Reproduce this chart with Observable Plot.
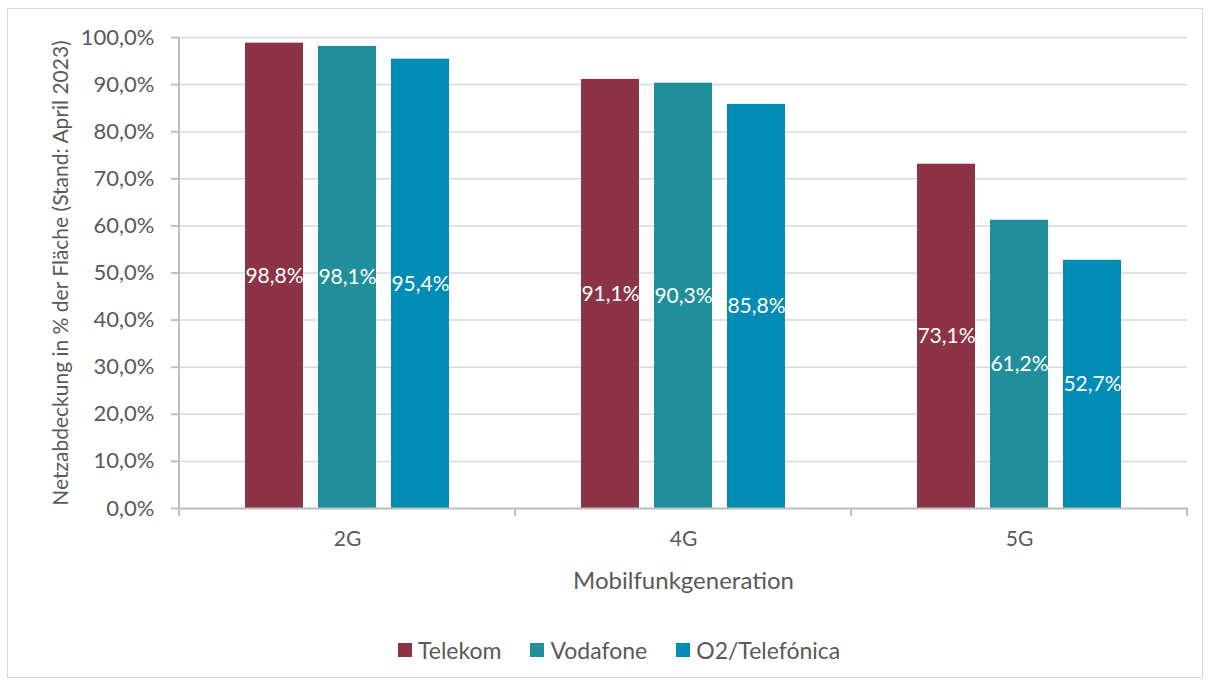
<!DOCTYPE html>
<html>
<head>
<meta charset="utf-8">
<script src="https://cdn.jsdelivr.net/npm/d3@7"></script>
<script src="https://cdn.jsdelivr.net/npm/@observablehq/plot@0.6"></script>
<style>
  html, body { margin: 0; padding: 0; background: #fff; }
  body { width: 1212px; height: 684px; position: relative; overflow: hidden; font-family: Lato, "Open Sans", sans-serif; }
  #frame { position: absolute; left: 7px; top: 8px; width: 1196px; height: 670px; border: 1.5px solid #d9d9d9; box-sizing: border-box; }
  #chart { position: absolute; left: 0; top: 0; }
  #legend { position: absolute; left: 398px; top: 636px; display: flex; align-items: center; font-size: 23px; color: #595959; line-height: 28px; }
  #legend .item { display: flex; align-items: center; margin-right: 29px; }
  #legend .sw { width: 14px; height: 14px; margin-right: 6px; }
</style>
</head>
<body>
<div id="frame"></div>
<div id="chart"></div>
<div id="legend"></div>
<script>
const categories = ["2G", "4G", "5G"];
const operators = ["Telekom", "Vodafone", "O2/Telefónica"];
const telekom = [98.8, 91.1, 73.1];
const vodafone = [98.1, 90.3, 61.2];
const o2 = [95.4, 85.8, 52.7];
const colors = ["#8C3446", "#218F9B", "#008CB4"];
const yTicks = [0, 10, 20, 30, 40, 50, 60, 70, 80, 90, 100];
const yLabel = "Netzabdeckung in % der Fläche (Stand: April 2023)";
const xLabel = "Mobilfunkgeneration";

const series = [telekom, vodafone, o2];
const data = [];
categories.forEach((c, i) => operators.forEach((o, j) => data.push({gen: c, op: o, value: series[j][i]})));

const fmt1 = v => v.toFixed(1).replace(".", ",") + "%";

const plot = Plot.plot({
  width: 1212,
  height: 600,
  marginLeft: 178,
  marginRight: 25,
  marginTop: 37,
  marginBottom: 92,
  style: {fontFamily: "Lato, 'Open Sans', sans-serif", fontSize: "21px", color: "#595959", background: "transparent", overflow: "visible"},
  fx: {domain: categories, padding: 0},
  x: {domain: operators, paddingInner: 0.203, paddingOuter: 0.875, axis: null},
  y: {domain: [0, 100]},
  color: {domain: operators, range: colors},
  marks: [
    Plot.gridY(yTicks, {stroke: "#d9d9d9", strokeOpacity: 1, strokeWidth: 1.5}),
    Plot.barY(data, {fx: "gen", x: "op", y: "value", fill: "op"}),
    Plot.text(data, {fx: "gen", x: "op", y: d => d.value / 2, text: d => fmt1(d.value), fill: "white", fontSize: 21}),
    Plot.ruleY([0], {stroke: "#bfbfbf", strokeWidth: 2}),
    Plot.axisY(yTicks, {tickSize: 8, tickPadding: 17, tickFormat: fmt1, stroke: "#bfbfbf", strokeWidth: 2, fill: "#595959", fontSize: 22, label: null}),
    Plot.axisY([], {tickSize: 0, fill: "#595959", fontSize: 21, label: yLabel, labelAnchor: "center", labelOffset: 126, labelArrow: "none"}),
    Plot.axisFx({anchor: "bottom", tickSize: 0, tickPadding: 23, fill: "#595959", fontSize: 21, label: null}),
    Plot.axisFx([], {anchor: "bottom", tickSize: 0, fill: "#595959", fontSize: 24, label: xLabel, labelAnchor: "center", labelOffset: 80, labelArrow: "none"})
  ]
});

document.getElementById("chart").appendChild(plot);

// y-axis line and category separator ticks, positioned from the plot's own scales
const fx = plot.scale("fx");
const y = plot.scale("y");
const svg = d3.select(plot);
const x0 = fx.apply(categories[0]);
const edges = categories.map(c => fx.apply(c)).concat([fx.apply(categories[categories.length - 1]) + fx.bandwidth]);
svg.append("line")
  .attr("x1", x0).attr("x2", x0)
  .attr("y1", y.apply(0)).attr("y2", y.apply(100))
  .attr("stroke", "#bfbfbf").attr("stroke-width", 2);
svg.selectAll("line.sep").data(edges).join("line").attr("class", "sep")
  .attr("x1", d => d).attr("x2", d => d)
  .attr("y1", y.apply(0)).attr("y2", y.apply(0) + 8)
  .attr("stroke", "#bfbfbf").attr("stroke-width", 2);

// legend
const legend = d3.select("#legend");
operators.forEach((o, i) => {
  const it = legend.append("div").attr("class", "item");
  it.append("div").attr("class", "sw").style("background", colors[i]);
  it.append("span").text(o);
});
</script>
</body>
</html>
